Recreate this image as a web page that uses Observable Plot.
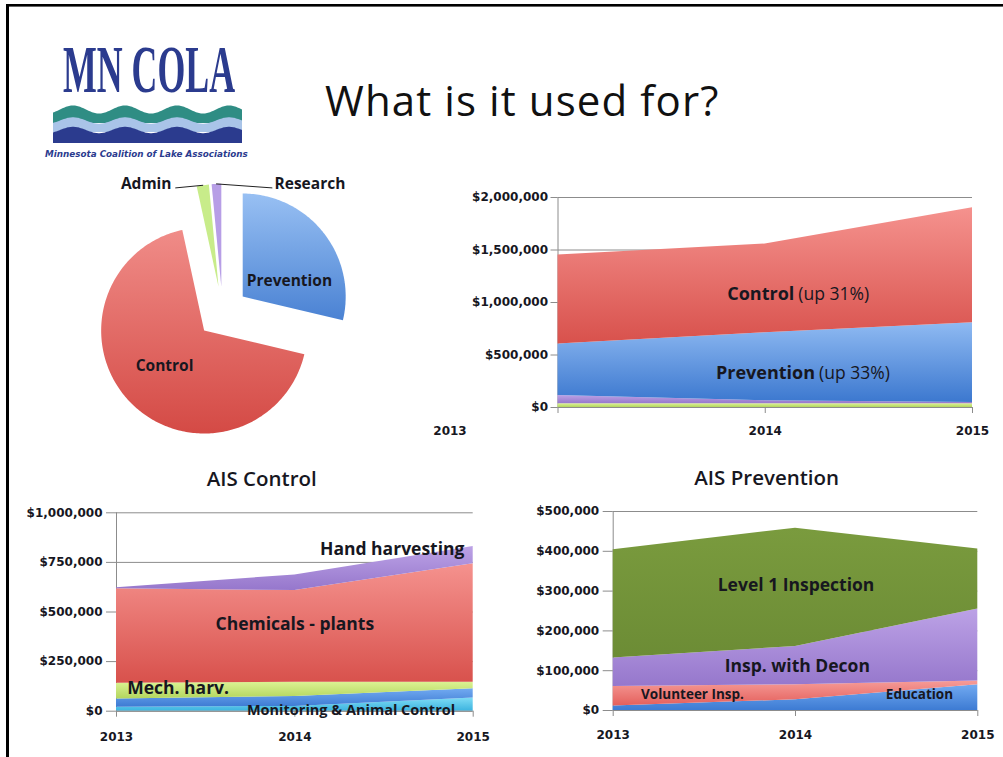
<!DOCTYPE html>
<html><head><meta charset="utf-8">
<script src="https://cdn.jsdelivr.net/npm/d3@7"></script>
<script src="https://cdn.jsdelivr.net/npm/@observablehq/plot@0.6"></script>
<style>
html,body{margin:0;padding:0;background:#fff;overflow:hidden;}
#slide{position:relative;width:1003px;height:757px;overflow:hidden;background:#fff;font-family:"Open Sans",sans-serif;}
</style></head><body>
<svg width="0" height="0" style="position:absolute">
<defs>
<linearGradient id="gCtrl" x1="0" y1="0" x2="0" y2="1"><stop offset="0" stop-color="#f5928e"/><stop offset="1" stop-color="#d8514c"/></linearGradient>
<linearGradient id="gPrev" x1="0" y1="0" x2="0" y2="1"><stop offset="0" stop-color="#8fbaf2"/><stop offset="1" stop-color="#3c78cf"/></linearGradient>
<linearGradient id="gPurple" x1="0" y1="0" x2="0" y2="1"><stop offset="0" stop-color="#bca2e6"/><stop offset="1" stop-color="#9677cc"/></linearGradient>
<linearGradient id="gLime" x1="0" y1="0" x2="0" y2="1"><stop offset="0" stop-color="#dbf293"/><stop offset="1" stop-color="#b3d65e"/></linearGradient>
<linearGradient id="gCyan" x1="0" y1="0" x2="0" y2="1"><stop offset="0" stop-color="#7fdcf5"/><stop offset="1" stop-color="#3db4e0"/></linearGradient>
<linearGradient id="gOlive" x1="0" y1="0" x2="0" y2="1"><stop offset="0" stop-color="#7a9b3e"/><stop offset="1" stop-color="#6c8c35"/></linearGradient>
<linearGradient id="gEdu" x1="0" y1="0" x2="0" y2="1"><stop offset="0" stop-color="#72aaf1"/><stop offset="1" stop-color="#3d7bd3"/></linearGradient>
<linearGradient id="gVol" x1="0" y1="0" x2="0" y2="1"><stop offset="0" stop-color="#f69c98"/><stop offset="1" stop-color="#e45f5b"/></linearGradient>
<linearGradient id="gPieCtrl" x1="0" y1="0" x2="0" y2="1"><stop offset="0" stop-color="#f08c88"/><stop offset="1" stop-color="#d44a45"/></linearGradient>
<linearGradient id="gPiePrev" x1="0" y1="0" x2="0" y2="1"><stop offset="0" stop-color="#98c0f3"/><stop offset="1" stop-color="#4a82d3"/></linearGradient>
</defs></svg>
<div id="slide"></div>
<script>
// ---------- DATA ----------
const years = [2013, 2014, 2015];

const pieCategories = ["Prevention", "Control", "Admin", "Research"];
const pieShares = [28.7, 67.9, 1.9, 1.5];

const overallSeries = ["Admin", "Research", "Prevention", "Control"];
const overallAdmin = [35000, 35000, 35000];
const overallResearch = [80000, 30000, 12000];
const overallPrevention = [490000, 648000, 759000];
const overallControl = [847000, 844000, 1096000];
const overallTicks = [0, 500000, 1000000, 1500000, 2000000];

const controlSeries = ["Monitoring", "Animal Control", "Mech. harv.", "Chemicals - plants", "Hand harvesting"];
const controlMonitoring = [20000, 24000, 67000];
const controlAnimal = [42000, 50000, 46000];
const controlMech = [79000, 72000, 33000];
const controlChemicals = [476000, 462000, 597000];
const controlHand = [5000, 79000, 87000];
const controlTicks = [0, 250000, 500000, 750000, 1000000];

const preventionSeries = ["Education", "Volunteer Insp.", "Insp. with Decon", "Level 1 Inspection"];
const preventionEducation = [11000, 27000, 65000];
const preventionVolunteer = [49000, 38000, 9000];
const preventionDecon = [72000, 96000, 181000];
const preventionLevel1 = [272000, 297000, 151000];
const preventionTicks = [0, 100000, 200000, 300000, 400000, 500000];

// annotation anchors (data units)
const overallNotes = [
  {year: 2014.15, value: 1076000, name: "Control", note: "(up 31%)"},
  {year: 2014.25, value: 327000, name: "Prevention", note: "(up 33%)"}
];
const controlNotesBig = [
  {year: 2014.546, value: 818000, text: "Hand harvesting"},
  {year: 2014.0, value: 440000, text: "Chemicals - plants"}
];
const controlNotesStart = [{year: 2013.06, value: 113000, text: "Mech. harv."}];
const controlNotesSmall = [{year: 2014.315, value: 3000, text: "Monitoring & Animal Control"}];
const preventionNotesBig = [
  {year: 2014.003, value: 314000, text: "Level 1 Inspection"},
  {year: 2014.01, value: 110500, text: "Insp. with Decon"}
];
const preventionNotesSmall = [
  {year: 2013.435, value: 40000, text: "Volunteer Insp."},
  {year: 2014.68, value: 40000, text: "Education"}
];
const pieInside = [
  {name: "Prevention", x: 0.65, y: -0.304},
  {name: "Control", x: -0.563, y: 0.515}
];
const pieLeft = [{name: "Admin", x: -0.495, y: -1.243, lx: -0.455, ly: -1.21}];
const pieRight = [{name: "Research", x: 0.505, y: -1.243, lx: 0.48, ly: -1.21}];

// ---------- HELPERS ----------
const slide = document.getElementById("slide");
function place(node, left, top) {
  node.style.position = "absolute";
  node.style.left = left + "px";
  node.style.top = top + "px";
  slide.appendChild(node);
}
function makeRows(names, arrays) {
  return names.flatMap((n, i) => years.map((y, j) => ({year: y, series: n, value: arrays[i][j]})));
}
const GRID = "#8c8c8c";
const INK = "#17171f";
const fmtMoney = d3.format("$,");
function axes(ticks, o) {
  return [
    Plot.axisY(ticks, {tickSize: o.ySize, tickPadding: o.yPad, tickFormat: fmtMoney, stroke: GRID, fill: INK, label: null}),
    Plot.axisX(years, {tickSize: 6, stroke: GRID, tickFormat: () => "", label: null})
  ];
}
const chartStyle = {background: "transparent", overflow: "visible", fontFamily: "DejaVu Sans", fontSize: "12px", fontWeight: "bold"};

// ---------- OVERLAY (frame, logo, title) ----------
function wave(y0, amp, yb, x0, x1, period, phase) {
  let d = `M${x0},${yb}`;
  for (let x = x0; x <= x1; x += 1) d += ` L${x},${(y0 - amp * Math.cos((x - phase) / period * 2 * Math.PI)).toFixed(2)}`;
  return d + ` L${x1},${yb} Z`;
}
const ov = document.createElementNS("http://www.w3.org/2000/svg", "svg");
ov.setAttribute("width", 1003); ov.setAttribute("height", 757);
ov.innerHTML = `
<rect x="6" y="4" width="3" height="760" fill="#000"/>
<rect x="6" y="4" width="1000" height="2.6" fill="#000"/>
<text transform="translate(63,92) scale(0.5265,1)" font-family="Liberation Serif" font-weight="bold" font-size="68" fill="#2b3b8e">MN COLA</text>
<path d="${wave(109.5, 4, 123, 53, 242, 52, 73)}" fill="#2f8d84"/>
<path d="${wave(120.5, 3.2, 132, 53, 242, 52, 73)}" fill="#a9c4e8"/>
<path d="${wave(130, 3.2, 143, 53, 242, 52, 73)}" fill="#2b3b8e"/>
<text transform="translate(45,156.5) scale(0.925,1)" font-family="DejaVu Sans" font-style="italic" font-weight="bold" font-size="9.5" fill="#2b3b8e">Minnesota Coalition of Lake Associations</text>
<text x="325" y="116" font-family="Open Sans" font-size="42" letter-spacing="1.1" fill="#111">What is it used for?</text>
<text x="261.7" y="485.5" text-anchor="middle" font-family="Open Sans" font-weight="600" font-size="20.5" fill="${INK}">AIS Control</text>
<text x="766.7" y="484.5" text-anchor="middle" font-family="Open Sans" font-weight="600" font-size="20.5" fill="${INK}">AIS Prevention</text>
`;
place(ov, 0, 0);

// ---------- PIE ----------
const arcs = d3.pie().sort(null).startAngle(0).endAngle(2 * Math.PI)(pieShares);
const explode = 0.25;
const piePts = [];
const sliceTips = {};
arcs.forEach((a, i) => {
  const name = pieCategories[i];
  const m = (a.startAngle + a.endAngle) / 2;
  const cx = explode * Math.sin(m), cy = -explode * Math.cos(m);
  piePts.push({name, x: cx, y: cy});
  const n = Math.max(2, Math.ceil((a.endAngle - a.startAngle) / (Math.PI / 180)));
  for (let k = 0; k <= n; k++) {
    const t = a.startAngle + (a.endAngle - a.startAngle) * k / n;
    piePts.push({name, x: cx + Math.sin(t), y: cy - Math.cos(t)});
  }
  piePts.push({name, x: cx, y: cy});
  sliceTips[name] = {x: cx + Math.sin(m), y: cy - Math.cos(m)};
});
const leaders = [...pieLeft, ...pieRight].flatMap(c => [
  {name: c.name, x: c.lx, y: c.ly},
  {name: c.name, x: sliceTips[c.name].x, y: sliceTips[c.name].y}
]);
const pieText = {fontFamily: "Open Sans", fontWeight: 700, fontSize: 15.5, fill: INK};
const pie = Plot.plot({
  width: 270, height: 290, margin: 0,
  x: {domain: [-1.282, 1.34], axis: null},
  y: {domain: [-1.476, 1.34], range: [0, 290], axis: null},
  color: {domain: pieCategories, range: ["url(#gPiePrev)", "url(#gPieCtrl)", "#c8ec8a", "#b79ee6"]},
  style: {background: "transparent", overflow: "visible"},
  marks: [
    Plot.line(piePts, {x: "x", y: "y", z: "name", fill: "name", stroke: "none", curve: "linear"}),
    Plot.line(leaders, {x: "x", y: "y", z: "name", stroke: "#222", strokeWidth: 1}),
    Plot.text(pieInside, {x: "x", y: "y", text: "name", ...pieText}),
    Plot.text(pieLeft, {x: "x", y: "y", text: "name", textAnchor: "end", ...pieText}),
    Plot.text(pieRight, {x: "x", y: "y", text: "name", textAnchor: "start", ...pieText})
  ]
});
place(pie, 90, 160);

// ---------- OVERALL AREA ----------
const overallData = makeRows(overallSeries, [overallAdmin, overallResearch, overallPrevention, overallControl]);
const overall = Plot.plot({
  width: 573, height: 265, marginLeft: 127.5, marginRight: 31, marginTop: 17, marginBottom: 38,
  x: {domain: [2013, 2015], axis: null}, y: {domain: [0, 2000000], axis: null},
  color: {domain: overallSeries, range: ["url(#gLime)", "url(#gPurple)", "url(#gPrev)", "url(#gCtrl)"]},
  style: chartStyle,
  marks: [
    Plot.gridY(overallTicks, {stroke: GRID, strokeOpacity: 1}),
    Plot.ruleX([2013], {stroke: GRID}),
    Plot.areaY(overallData, {x: "year", y: "value", z: "series", fill: "series", order: overallSeries}),
    Plot.ruleY([0], {stroke: GRID}),
    ...axes(overallTicks, {ySize: 7, yPad: 3}),
    Plot.axisX([2014, 2015], {tickSize: 0, tickPadding: 19, tickFormat: d => String(d), fill: INK, label: null}),
    Plot.axisX([2013], {tickSize: 0, tickPadding: 19, dx: -108, tickFormat: d => String(d), fill: INK, label: null}),
    Plot.text(overallNotes, {x: "year", y: "value", text: "name", textAnchor: "end", dx: -2, fontFamily: "Open Sans", fontWeight: 700, fontSize: 18, fill: INK}),
    Plot.text(overallNotes, {x: "year", y: "value", text: "note", textAnchor: "start", dx: 2, fontFamily: "Open Sans", fontWeight: 400, fontSize: 17.5, fill: INK})
  ]
});
place(overall, 430, 180);

// ---------- AIS CONTROL ----------
const controlData = makeRows(controlSeries, [controlMonitoring, controlAnimal, controlMech, controlChemicals, controlHand]);
const noteBig = {fontFamily: "Open Sans", fontWeight: 700, fontSize: 17.5, fill: INK};
const noteSmall = {fontFamily: "Open Sans", fontWeight: 700, fontSize: 14.5, fill: INK};
const control = Plot.plot({
  width: 470, height: 260, marginLeft: 96, marginRight: 17.3, marginTop: 22.3, marginBottom: 39.3,
  x: {domain: [2013, 2015], axis: null}, y: {domain: [0, 1000000], axis: null},
  color: {domain: controlSeries, range: ["url(#gCyan)", "url(#gEdu)", "url(#gLime)", "url(#gCtrl)", "url(#gPurple)"]},
  style: chartStyle,
  marks: [
    Plot.gridY(controlTicks, {stroke: GRID, strokeOpacity: 1}),
    Plot.ruleX([2013], {stroke: GRID}),
    Plot.areaY(controlData, {x: "year", y: "value", z: "series", fill: "series", order: controlSeries}),
    Plot.ruleY([0], {stroke: GRID}),
    ...axes(controlTicks, {ySize: 10, yPad: 4}),
    Plot.axisX(years, {tickSize: 0, tickPadding: 21, tickFormat: d => String(d), fill: INK, label: null}),
    Plot.text(controlNotesBig, {x: "year", y: "value", text: "text", ...noteBig}),
    Plot.text(controlNotesStart, {x: "year", y: "value", text: "text", textAnchor: "start", ...noteBig}),
    Plot.text(controlNotesSmall, {x: "year", y: "value", text: "text", ...noteSmall})
  ]
});
place(control, 20, 490);

// ---------- AIS PREVENTION ----------
const preventionData = makeRows(preventionSeries, [preventionEducation, preventionVolunteer, preventionDecon, preventionLevel1]);
const prevention = Plot.plot({
  width: 503, height: 260, marginLeft: 112.7, marginRight: 25.7, marginTop: 21, marginBottom: 40,
  x: {domain: [2013, 2015], axis: null}, y: {domain: [0, 500000], axis: null},
  color: {domain: preventionSeries, range: ["url(#gEdu)", "url(#gVol)", "url(#gPurple)", "url(#gOlive)"]},
  style: chartStyle,
  marks: [
    Plot.gridY(preventionTicks, {stroke: GRID, strokeOpacity: 1}),
    Plot.ruleX([2013], {stroke: GRID}),
    Plot.areaY(preventionData, {x: "year", y: "value", z: "series", fill: "series", order: preventionSeries}),
    Plot.ruleY([0], {stroke: GRID}),
    ...axes(preventionTicks, {ySize: 10, yPad: 4}),
    Plot.axisX(years, {tickSize: 0, tickPadding: 20, tickFormat: d => String(d), fill: INK, label: null}),
    Plot.text(preventionNotesBig, {x: "year", y: "value", text: "text", ...noteBig}),
    Plot.text(preventionNotesSmall, {x: "year", y: "value", text: "text", ...noteSmall, fontSize: 13.5})
  ]
});
place(prevention, 500, 490);
</script>
</body></html>
